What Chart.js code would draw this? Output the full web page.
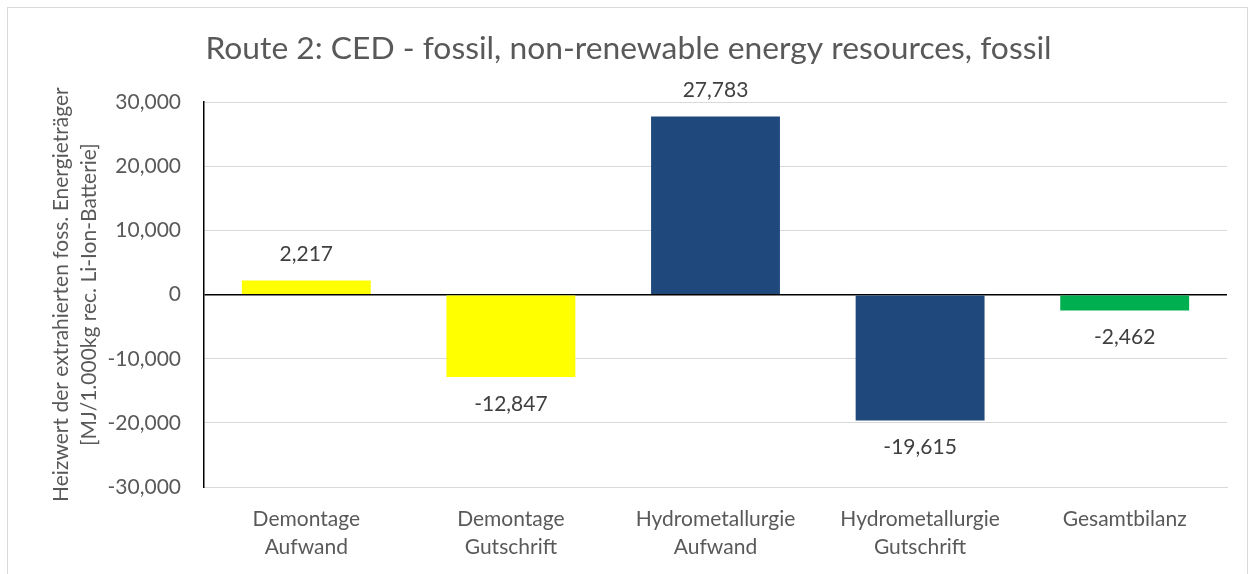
<!DOCTYPE html>
<html>
<head>
<meta charset="utf-8">
<script src="https://cdn.jsdelivr.net/npm/chart.js@4.4.1/dist/chart.umd.min.js"></script>
<style>
  html, body { margin: 0; padding: 0; background: #fff; }
  .frame {
    position: absolute; left: 7px; top: 7px;
    width: 1241px; height: 580px;
    border: 1px solid #d9d9d9; box-sizing: border-box;
  }
  .frame canvas { position: absolute; left: 0; top: 0; }
</style>
</head>
<body>
<div class="frame">
  <canvas id="cedChart" width="1241" height="580"></canvas>
</div>
<script>
const categories = [
  ['Demontage', 'Aufwand'],
  ['Demontage', 'Gutschrift'],
  ['Hydrometallurgie', 'Aufwand'],
  ['Hydrometallurgie', 'Gutschrift'],
  ['Gesamtbilanz']
];
const values = [2217, -12847, 27783, -19615, -2462];
const barColors = ['#ffff00', '#ffff00', '#1f497d', '#1f497d', '#00b050'];
const yTicks = [-30000, -20000, -10000, 0, 10000, 20000, 30000];

const FONT = 'Lato, "Open Sans", sans-serif';
const fmt = v => v.toLocaleString('en-US');

// value labels above positive bars, below negative ones
const valueLabels = {
  id: 'valueLabels',
  afterDatasetsDraw(chart) {
    const ctx = chart.ctx;
    const meta = chart.getDatasetMeta(0);
    ctx.save();
    ctx.font = '21px ' + FONT;
    ctx.fillStyle = '#404040';
    ctx.textAlign = 'center';
    ctx.textBaseline = 'middle';
    meta.data.forEach((bar, i) => {
      const v = values[i];
      const y = v >= 0 ? bar.y - 26 : bar.y + 27;
      ctx.fillText(fmt(v), bar.x, y);
    });
    ctx.restore();
  }
};

new Chart(document.getElementById('cedChart'), {
  type: 'bar',
  data: {
    labels: categories,
    datasets: [{
      data: values,
      backgroundColor: barColors,
      borderWidth: 0,
      categoryPercentage: 1,
      barPercentage: 0.63
    }]
  },
  options: {
    responsive: false,
    animation: false,
    layout: { padding: { left: 22, right: 22, top: 0, bottom: 17 } },
    plugins: {
      legend: { display: false },
      tooltip: { enabled: false },
      title: {
        display: true,
        text: 'Route 2: CED - fossil, non-renewable energy resources, fossil',
        color: '#595959',
        font: { family: FONT, size: 31.8, weight: 'normal' },
        padding: { top: 22, bottom: 34 }
      }
    },
    scales: {
      x: {
        grid: { display: false },
        border: { color: '#d9d9d9', width: 1 },
        ticks: {
          color: '#595959',
          font: { family: FONT, size: 21, lineHeight: 1.33 },
          padding: 10,
          maxRotation: 0
        }
      },
      y: {
        min: -30000,
        max: 30000,
        afterBuildTicks: axis => { axis.ticks = yTicks.map(v => ({ value: v })); },
        afterFit: axis => { axis.width = 174; },
        border: { color: '#000', width: 1.5 },
        grid: {
          color: c => (c.tick && c.tick.value === 0 ? '#000' : '#d9d9d9'),
          lineWidth: c => (c.tick && c.tick.value === 0 ? 1.5 : 1),
          drawTicks: false
        },
        ticks: {
          color: '#595959',
          font: { family: FONT, size: 21 },
          padding: 23,
          callback: v => fmt(v)
        },
        title: {
          display: true,
          text: ['Heizwert der extrahierten foss. Energieträger', '[MJ/1.000kg rec. Li-Ion-Batterie]'],
          color: '#595959',
          font: { family: FONT, size: 21, weight: 'normal', lineHeight: 1.3 },
          padding: { top: 18, bottom: 0 }
        }
      }
    }
  },
  plugins: [valueLabels]
});
</script>
</body>
</html>
